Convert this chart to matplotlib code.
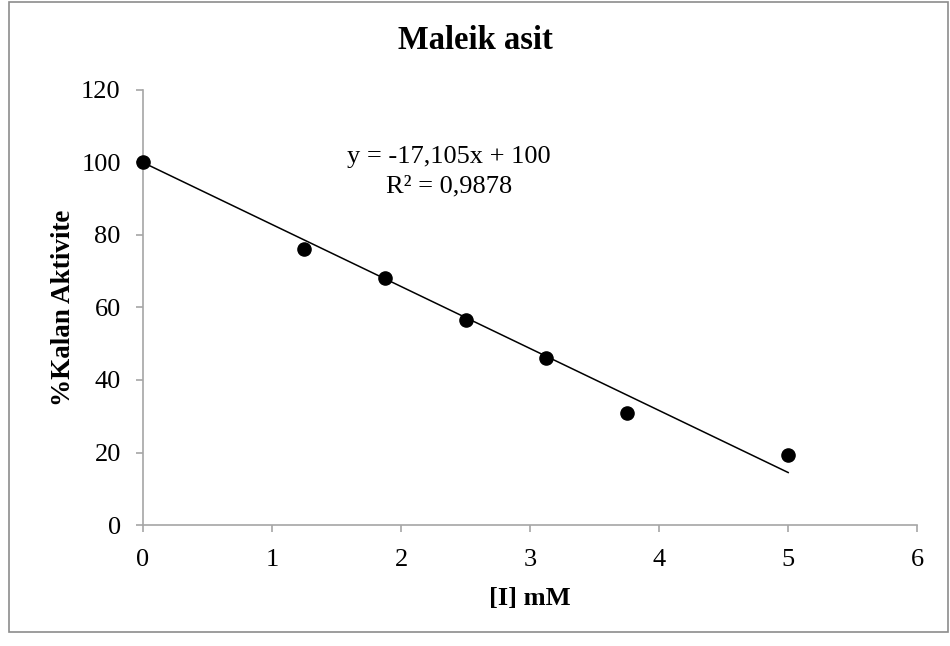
"""Maleik asit inhibition plot: % remaining activity vs inhibitor concentration."""

import matplotlib

matplotlib.use("Agg")
import matplotlib.pyplot as plt
import numpy as np
from matplotlib.patches import Rectangle

# data
conc_mm = [0.0, 1.25, 1.875, 2.5, 3.125, 3.75, 5.0]
activity_pct = [100.0, 76.0, 68.0, 56.5, 46.2, 31.0, 19.4]
slope = -17.105
intercept = 100.0
r_squared = 0.9878
x_ticks = [0, 1, 2, 3, 4, 5, 6]
y_ticks = [0, 20, 40, 60, 80, 100, 120]

plt.rcParams["font.family"] = ["Liberation Serif", "DejaVu Serif"]
AXIS_GREY = "#a6a6a6"

fig = plt.figure(figsize=(9.5, 6.46), dpi=100)
ax = fig.add_axes([0.1505, 0.1873, 0.815, 0.6734])

ax.scatter(conc_mm, activity_pct, s=90, color="black", zorder=3, clip_on=False)

fit_x = np.array([min(conc_mm), max(conc_mm)])
ax.plot(fit_x, slope * fit_x + intercept, color="black", linewidth=1.1, zorder=2)

ax.text(
    2.37, 101.6,
    f"y = {slope:.3f}x + {intercept:.0f}".replace(".", ","),
    ha="center", va="center", fontsize=19,
)
ax.text(
    2.37, 93.3,
    f"R² = {r_squared:.4f}".replace(".", ","),
    ha="center", va="center", fontsize=19,
)

ax.set_xlim(0, 6)
ax.set_ylim(0, 120)
ax.set_xticks(x_ticks)
ax.set_yticks(y_ticks)
ax.tick_params(labelsize=19, length=5, color=AXIS_GREY, width=1.2)
ax.tick_params(axis="x", pad=12)
ax.tick_params(axis="y", pad=11)
for side in ("top", "right"):
    ax.spines[side].set_visible(False)
for side in ("left", "bottom"):
    ax.spines[side].set_color(AXIS_GREY)
    ax.spines[side].set_linewidth(1.2)

ax.set_xlabel("[I] mM", fontsize=19, fontweight="bold", labelpad=12)
ax.set_ylabel("%Kalan Aktivite", fontsize=19.5, fontweight="bold", labelpad=4)

# Excel centres the chart title over the whole chart area
fig.text(0.5, 0.938, "Maleik asit", fontsize=23.5, fontweight="bold",
         ha="center", va="center")

# chart-area border
fig.patches.append(
    Rectangle(
        (0.009, 0.022), 0.989, 0.975,
        transform=fig.transFigure, fill=False, edgecolor="#8c8c8c", linewidth=1.2,
    )
)

fig.savefig("out.png", dpi=100)
